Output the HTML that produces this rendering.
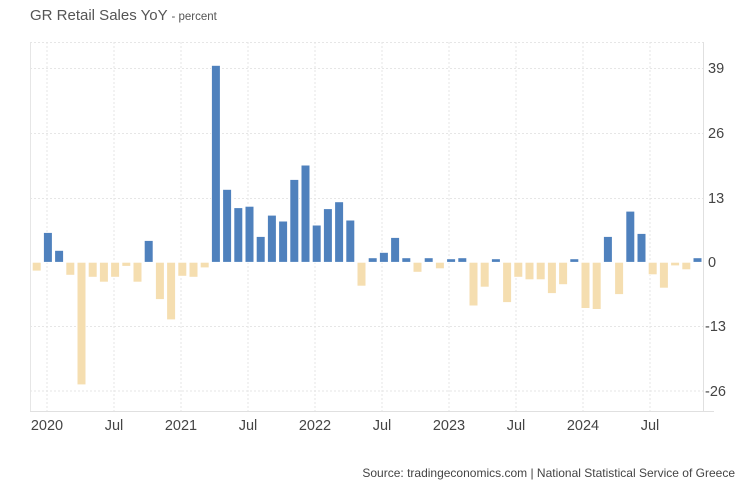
<!DOCTYPE html>
<html><head><meta charset="utf-8"><style>
html,body{margin:0;padding:0;background:#fff;}
svg{display:block;font-family:"Liberation Sans",Arial,sans-serif;}
</style></head><body>
<svg width="748" height="498" viewBox="0 0 748 498" xmlns="http://www.w3.org/2000/svg">
<text x="30" y="20" font-size="15" fill="#555">GR Retail Sales YoY <tspan font-size="11.5">- percent</tspan></text>
<g stroke="#e6e6e6" stroke-width="1" stroke-dasharray="2,2">
<line x1="30" y1="42.5" x2="703" y2="42.5"/>
<line x1="30" y1="68.5" x2="703" y2="68.5"/>
<line x1="30" y1="133.5" x2="703" y2="133.5"/>
<line x1="30" y1="198.5" x2="703" y2="198.5"/>
<line x1="30" y1="326.5" x2="703" y2="326.5"/>
<line x1="30" y1="391" x2="703" y2="391"/>
<line x1="47" y1="42" x2="47" y2="411"/>
<line x1="114" y1="42" x2="114" y2="411"/>
<line x1="181" y1="42" x2="181" y2="411"/>
<line x1="248" y1="42" x2="248" y2="411"/>
<line x1="315" y1="42" x2="315" y2="411"/>
<line x1="382" y1="42" x2="382" y2="411"/>
<line x1="449" y1="42" x2="449" y2="411"/>
<line x1="516" y1="42" x2="516" y2="411"/>
<line x1="583" y1="42" x2="583" y2="411"/>
<line x1="650" y1="42" x2="650" y2="411"/>
</g>
<line x1="30.5" y1="42" x2="30.5" y2="411" stroke="#e6e6e6"/>
<line x1="703.5" y1="42" x2="703.5" y2="411" stroke="#e0e0e0"/>
<line x1="30" y1="411.5" x2="714" y2="411.5" stroke="#e0e0e0"/>
<g stroke="#fff" stroke-width="0.8" fill="#f5deb0">
<rect x="32.3" y="262.3" width="8.8" height="8.7"/>
<rect x="65.9" y="262.3" width="8.8" height="12.9"/>
<rect x="77.1" y="262.3" width="8.8" height="122.5"/>
<rect x="88.3" y="262.3" width="8.8" height="14.9"/>
<rect x="99.5" y="262.3" width="8.8" height="19.8"/>
<rect x="110.7" y="262.3" width="8.8" height="14.9"/>
<rect x="121.9" y="262.3" width="8.8" height="4"/>
<rect x="133.1" y="262.3" width="8.8" height="19.8"/>
<rect x="155.5" y="262.3" width="8.8" height="37.2"/>
<rect x="166.7" y="262.3" width="8.8" height="57.5"/>
<rect x="177.9" y="262.3" width="8.8" height="13.9"/>
<rect x="189.1" y="262.3" width="8.8" height="14.9"/>
<rect x="200.3" y="262.3" width="8.8" height="5.5"/>
<rect x="357.1" y="262.3" width="8.8" height="23.8"/>
<rect x="413.1" y="262.3" width="8.8" height="9.9"/>
<rect x="435.5" y="262.3" width="8.8" height="6.4"/>
<rect x="469.1" y="262.3" width="8.8" height="43.6"/>
<rect x="480.3" y="262.3" width="8.8" height="24.8"/>
<rect x="502.7" y="262.3" width="8.8" height="40.2"/>
<rect x="513.9" y="262.3" width="8.8" height="14.9"/>
<rect x="525.1" y="262.3" width="8.8" height="17.4"/>
<rect x="536.3" y="262.3" width="8.8" height="17.4"/>
<rect x="547.5" y="262.3" width="8.8" height="31.2"/>
<rect x="558.7" y="262.3" width="8.8" height="22.3"/>
<rect x="581.1" y="262.3" width="8.8" height="46.1"/>
<rect x="592.3" y="262.3" width="8.8" height="47.1"/>
<rect x="614.7" y="262.3" width="8.8" height="32.2"/>
<rect x="648.3" y="262.3" width="8.8" height="12.4"/>
<rect x="659.5" y="262.3" width="8.8" height="25.8"/>
<rect x="670.7" y="262.3" width="8.8" height="3.5"/>
<rect x="681.9" y="262.3" width="8.8" height="7.4"/>
</g>
<g stroke="#fff" stroke-width="0.8" fill="#4f81bd">
<rect x="43.5" y="232.5" width="8.8" height="29.8"/>
<rect x="54.7" y="250.4" width="8.8" height="11.9"/>
<rect x="144.3" y="240.5" width="8.8" height="21.8"/>
<rect x="211.5" y="65.4" width="8.8" height="196.9"/>
<rect x="222.7" y="189.4" width="8.8" height="72.9"/>
<rect x="233.9" y="207.7" width="8.8" height="54.6"/>
<rect x="245.1" y="206.3" width="8.8" height="56"/>
<rect x="256.3" y="236.5" width="8.8" height="25.8"/>
<rect x="267.5" y="215.2" width="8.8" height="47.1"/>
<rect x="278.7" y="221.1" width="8.8" height="41.2"/>
<rect x="289.9" y="179.5" width="8.8" height="82.8"/>
<rect x="301.1" y="165.1" width="8.8" height="97.2"/>
<rect x="312.3" y="225.1" width="8.8" height="37.2"/>
<rect x="323.5" y="208.7" width="8.8" height="53.6"/>
<rect x="334.7" y="201.8" width="8.8" height="60.5"/>
<rect x="345.9" y="220.1" width="8.8" height="42.2"/>
<rect x="368.3" y="257.8" width="8.8" height="4.5"/>
<rect x="379.5" y="252.4" width="8.8" height="9.9"/>
<rect x="390.7" y="237.5" width="8.8" height="24.8"/>
<rect x="401.9" y="257.8" width="8.8" height="4.5"/>
<rect x="424.3" y="257.8" width="8.8" height="4.5"/>
<rect x="446.7" y="258.8" width="8.8" height="3.5"/>
<rect x="457.9" y="257.8" width="8.8" height="4.5"/>
<rect x="491.5" y="258.8" width="8.8" height="3.5"/>
<rect x="569.9" y="258.8" width="8.8" height="3.5"/>
<rect x="603.5" y="236.5" width="8.8" height="25.8"/>
<rect x="625.9" y="211.2" width="8.8" height="51.1"/>
<rect x="637.1" y="233.5" width="8.8" height="28.8"/>
<rect x="693.1" y="257.8" width="8.8" height="4.5"/>
</g>
<g font-size="14.5" fill="#444">
<text x="708" y="73">39</text>
<text x="708" y="138">26</text>
<text x="708" y="203">13</text>
<text x="708" y="267">0</text>
<text x="705" y="331">-13</text>
<text x="705" y="396">-26</text>
</g>
<g font-size="14.5" fill="#444" text-anchor="middle">
<text x="47" y="430">2020</text>
<text x="114" y="430">Jul</text>
<text x="181" y="430">2021</text>
<text x="248" y="430">Jul</text>
<text x="315" y="430">2022</text>
<text x="382" y="430">Jul</text>
<text x="449" y="430">2023</text>
<text x="516" y="430">Jul</text>
<text x="583" y="430">2024</text>
<text x="650" y="430">Jul</text>
</g>
<text x="735" y="477" font-size="12" fill="#444" text-anchor="end">Source: tradingeconomics.com | National Statistical Service of Greece</text>
</svg>
</body></html>
